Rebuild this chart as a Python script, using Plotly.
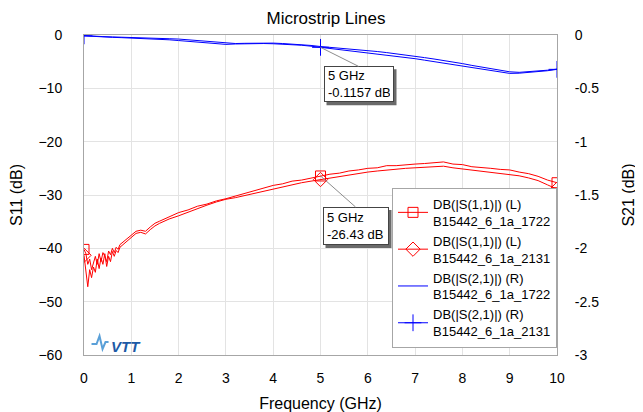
import plotly.graph_objects as go

# ---------------- data ----------------
freq_s11 = [0, 0.04, 0.08, 0.12, 0.16, 0.2, 0.24, 0.28, 0.32, 0.36, 0.4, 0.44, 0.48,
            0.52, 0.56, 0.6, 0.64, 0.68, 0.72, 0.76, 0.8, 0.9, 1.0, 1.1, 1.2, 1.3,
            1.4, 1.5, 1.6, 1.8,
            2.0, 2.2, 2.4, 2.6, 2.8, 3.0, 3.2, 3.4, 3.6, 3.8, 4.0, 4.2, 4.4, 4.6,
            4.8, 5.0, 5.2, 5.4, 5.6, 5.8, 6.0, 6.2, 6.4, 6.6, 6.8, 7.0, 7.2, 7.4,
            7.6, 7.8, 8.0, 8.2, 8.4, 8.6, 8.8, 9.0, 9.2, 9.4, 9.6, 9.8, 10.0]

s11_1722 = [-40.2, -41.0, -43.0, -42.0, -44.0, -42.5, -41.5, -43.0, -41.0, -42.5, -40.8, -41.5, -42.5,
            -40.5, -41.2, -40.0, -40.8, -39.8, -40.2, -39.3, -39.0, -38.3, -37.5, -36.8, -36.6, -36.8,
            -36.0, -35.3, -34.9, -34.1,
            -33.3, -32.8, -32.1, -31.7, -31.1, -30.7, -30.2, -29.8, -29.2, -28.8, -28.2, -27.9, -27.4, -27.2,
            -26.8, -26.43, -26.1, -25.9, -25.5, -25.3, -25.0, -24.9, -24.5, -24.5, -24.3, -24.2, -24.1, -23.9,
            -23.8, -24.2, -24.3, -24.7, -24.8, -25.0, -25.2, -25.3, -25.7, -26.0, -26.5, -27.2, -27.7]

s11_2131 = [-41.3, -44.5, -47.2, -44.0, -45.5, -43.5, -44.5, -42.0, -43.8, -41.8, -43.0, -41.0, -43.4,
            -41.5, -42.5, -40.6, -41.5, -40.4, -40.8, -39.8, -39.5, -38.8, -38.0, -37.2, -37.0, -37.3,
            -36.5, -35.8, -35.3, -34.5,
            -33.9, -33.2, -32.6, -31.9, -31.3, -30.8, -30.5, -30.1, -29.7, -29.2, -28.8, -28.4, -28.0, -27.7,
            -27.4, -27.1, -26.8, -26.5, -26.2, -25.9, -25.7, -25.5, -25.3, -25.1, -25.0, -24.9, -24.8, -24.6,
            -24.6, -24.9, -25.1, -25.3, -25.5, -25.7, -25.9, -26.1, -26.4, -26.8, -27.3, -28.1, -28.9]

freq_s21 = [0.0, 0.2, 0.4, 0.6, 0.8, 1.0, 1.2, 1.4, 1.6, 1.8, 2.0, 2.2, 2.4, 2.6, 2.8, 3.0,
            3.2, 3.4, 3.6, 3.8, 4.0, 4.2, 4.4, 4.6, 4.8, 5.0, 5.2, 5.4, 5.6, 5.8, 6.0,
            6.2, 6.4, 6.6, 6.8, 7.0, 7.2, 7.4, 7.6, 7.8, 8.0, 8.2, 8.4, 8.6, 8.8, 9.0,
            9.2, 9.4, 9.6, 9.8, 10.0]

s21_1722 = [-0.005, -0.012, -0.015, -0.018, -0.020, -0.025, -0.022, -0.030, -0.028, -0.035, -0.038,
            -0.045, -0.050, -0.058, -0.070, -0.078, -0.080, -0.078, -0.075, -0.072, -0.076, -0.080,
            -0.085, -0.090, -0.098, -0.108, -0.115, -0.125, -0.132, -0.138, -0.145, -0.155, -0.165,
            -0.175, -0.185, -0.198, -0.212, -0.225, -0.238, -0.252, -0.268, -0.285, -0.300, -0.318,
            -0.335, -0.345, -0.350, -0.345, -0.340, -0.330, -0.320]

s21_2131 = [-0.008, -0.015, -0.017, -0.022, -0.025, -0.028, -0.030, -0.034, -0.036, -0.045, -0.052,
            -0.060, -0.068, -0.075, -0.085, -0.088, -0.084, -0.082, -0.078, -0.080, -0.082, -0.086,
            -0.090, -0.096, -0.105, -0.1157, -0.128, -0.138, -0.148, -0.155, -0.165, -0.175, -0.186,
            -0.197, -0.208, -0.222, -0.236, -0.250, -0.262, -0.276, -0.292, -0.305, -0.320, -0.338,
            -0.352, -0.360, -0.358, -0.352, -0.348, -0.335, -0.322]

marker_freqs = [0, 5, 10]

names = ["DB(|S(1,1)|) (L)<br>B15442_6_1a_1722",
         "DB(|S(1,1)|) (L)<br>B15442_6_1a_2131",
         "DB(|S(2,1)|) (R)<br>B15442_6_1a_1722",
         "DB(|S(2,1)|) (R)<br>B15442_6_1a_2131"]

x_ticks = list(range(0, 11))
y1_ticks = [0, -10, -20, -30, -40, -50, -60]
y2_ticks = [0, -0.5, -1, -1.5, -2, -2.5, -3]

RED = "#ff0000"
BLUE = "#0000ff"
FONT = "Liberation Sans, Arial, sans-serif"

# page body has an 8px margin: figure is 635x404 so the page is 643x412
W, H = 635, 404


def sel(xs):
    return [i for i, v in enumerate(xs) if v in marker_freqs]


fig = go.Figure()

fig.add_trace(go.Scatter(
    x=freq_s11, y=s11_1722, name=names[0], mode="lines+markers", yaxis="y",
    line=dict(color=RED, width=1),
    marker=dict(symbol="square-open", size=10, color=RED, line=dict(width=1, color=RED)),
    selectedpoints=sel(freq_s11), unselected=dict(marker=dict(opacity=0)),
))
fig.add_trace(go.Scatter(
    x=freq_s11, y=s11_2131, name=names[1], mode="lines+markers", yaxis="y",
    line=dict(color=RED, width=1),
    marker=dict(symbol="diamond-open", size=11, color=RED, line=dict(width=1, color=RED)),
    selectedpoints=sel(freq_s11), unselected=dict(marker=dict(opacity=0)),
))
fig.add_trace(go.Scatter(
    x=freq_s21, y=s21_1722, name=names[2], mode="lines", yaxis="y2",
    line=dict(color=BLUE, width=1),
))
fig.add_trace(go.Scatter(
    x=freq_s21, y=s21_2131, name=names[3], mode="lines+markers", yaxis="y2",
    line=dict(color=BLUE, width=1),
    marker=dict(symbol="cross-thin-open", size=12, color=BLUE, line=dict(width=1, color=BLUE)),
    selectedpoints=sel(freq_s21), unselected=dict(marker=dict(opacity=0)),
))

axis_common = dict(showline=True, linecolor="#a6a6a6", linewidth=1, mirror=True,
                   ticks="", tickfont=dict(family=FONT, size=14, color="#000"),
                   zeroline=False, automargin=False)

fig.update_layout(
    width=W, height=H, autosize=False,
    margin=dict(l=76, r=86, t=27, b=57),
    paper_bgcolor="white", plot_bgcolor="white",
    font=dict(family=FONT, color="#000"),
    title=dict(text="Microstrip Lines", x=318 / W, xref="container", xanchor="center",
               y=1 - 10 / H, yref="container", yanchor="middle",
               font=dict(family=FONT, size=17, color="#000"), automargin=False),
    xaxis=dict(range=[0, 10], tickvals=x_ticks, showgrid=True, gridcolor="#e3e3e3",
               ticklabelstandoff=10,
               title=dict(text="Frequency (GHz)", font=dict(family=FONT, size=16), standoff=14),
               **axis_common),
    yaxis=dict(range=[-60, 0], tickvals=y1_ticks, showgrid=True, gridcolor="#e3e3e3",
               ticklabelstandoff=18,
               title=dict(text="S11 (dB)", font=dict(family=FONT, size=16), standoff=18),
               **axis_common),
    yaxis2=dict(range=[-3, 0], tickvals=y2_ticks, ticktext=[f"{v:g}" for v in y2_ticks],
                overlaying="y", side="right", showgrid=False, ticklabelstandoff=14,
                title=dict(text="S21 (dB)", font=dict(family=FONT, size=16), standoff=24),
                **axis_common),
    legend=dict(x=1, xanchor="right", y=0.022, yanchor="bottom",
                bgcolor="white", bordercolor="#a6a6a6", borderwidth=1,
                font=dict(family=FONT, size=13, color="#000"),
                tracegroupgap=4),
    showlegend=True,
)

# marker readout annotations (box with a drop shadow drawn as a pixel-sized shape)
readouts = [
    dict(x=5, y=s21_2131[freq_s21.index(5.0)], yref="y2", text="5 GHz<br>-0.1157 dB",
         ax=38, ay=19, w=62, h=28),
    dict(x=5, y=s11_1722[freq_s11.index(5.0)], yref="y", text="5 GHz<br>-26.43 dB",
         ax=35, ay=31, w=58, h=30),
]
PAD, BW, SH = 3, 1, 3
for r in readouts:
    ow, oh = r["w"] + 2 * (PAD + BW), r["h"] + 2 * (PAD + BW)
    fig.add_shape(type="rect", xref="x", yref=r["yref"],
                  xsizemode="pixel", ysizemode="pixel", xanchor=r["x"], yanchor=r["y"],
                  x0=r["ax"] - ow / 2 + SH, x1=r["ax"] + ow / 2 + SH,
                  y0=-(r["ay"] + SH), y1=-(r["ay"] + oh + SH),
                  fillcolor="#6a6a6a", line=dict(width=0), layer="above")
    fig.add_annotation(
        x=r["x"], y=r["y"], xref="x", yref=r["yref"], text=r["text"],
        showarrow=True, ax=r["ax"], ay=r["ay"], axref="pixel", ayref="pixel",
        xanchor="center", yanchor="top", align="left", valign="middle",
        width=r["w"], height=r["h"],
        arrowhead=0, arrowwidth=1, arrowcolor="#8c8c8c",
        bgcolor="white", bordercolor="#444", borderwidth=BW, borderpad=PAD,
        font=dict(family=FONT, size=13, color="#000"),
    )

# VTT logo
fig.add_annotation(x=0.088, y=0.028, xref="paper", yref="paper", text="<b><i>VTT</i></b>",
                   showarrow=False, xanchor="center", yanchor="middle",
                   font=dict(family=FONT, size=15, color="#1d5aa6"))
fig.add_shape(type="path", xref="paper", yref="paper",
              path="M 0.0159 0.0344 L 0.0265 0.0344 L 0.0328 0.0594 L 0.0392 0.0188 L 0.0455 0.0406 L 0.0519 0.0406",
              line=dict(color="#5aa0d8", width=2))

fig.write_html("out.html")
